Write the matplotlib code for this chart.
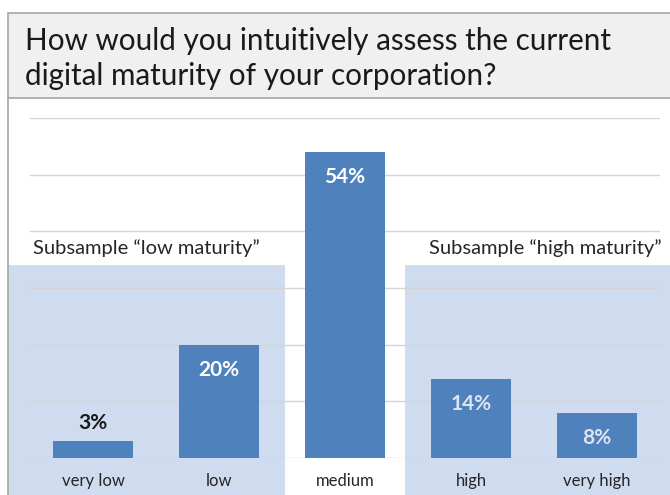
import matplotlib
matplotlib.use("Agg")
import matplotlib.pyplot as plt
from matplotlib.patches import Rectangle
from matplotlib.lines import Line2D

plt.rcParams['font.family'] = ['Lato', 'DejaVu Sans']

# data
categories = ["very low", "low", "medium", "high", "very high"]
shares = [3, 20, 54, 14, 8]
title = "How would you intuitively assess the current\ndigital maturity of your corporation?"
low_label = "Subsample \u201clow maturity\u201d"
high_label = "Subsample \u201chigh maturity\u201d"

BAR = "#4f81bd"
PANEL = "#cfdbee"
W, H = 670, 495

fig = plt.figure(figsize=(6.7, 4.95), dpi=100)

# light blue subsample panels (figure coords), drawn below the axes
fig.patches.append(Rectangle((8 / W, 0), (285 - 8) / W, (495 - 265) / H,
                             transform=fig.transFigure, facecolor=PANEL,
                             edgecolor="none", zorder=-2))
fig.patches.append(Rectangle((405 / W, 0), (W - 405) / W, (495 - 265) / H,
                             transform=fig.transFigure, facecolor=PANEL,
                             edgecolor="none", zorder=-2))

# title box
fig.patches.append(Rectangle((8 / W, (495 - 98) / H), 1.0, (98 - 13) / H,
                             transform=fig.transFigure, facecolor="#f0f0f0",
                             edgecolor="#a6a6a6", linewidth=1.2, zorder=1))
fig.lines.append(Line2D([8 / W, 8 / W], [0, (495 - 98) / H],
                        transform=fig.transFigure, color="#a6a6a6", linewidth=1.2))
fig.text(25 / W, (495 - 58.5) / H, title, fontsize=21.3, color="#1a1a1a",
         ha="left", va="center", linespacing=1.32, zorder=2)

ax = fig.add_axes([30 / W, (495 - 458) / H, (660 - 30) / W, (458 - 118) / H])
ax.set_zorder(1)
ax.set_facecolor("none")
x = list(range(len(categories)))
bars = ax.bar(x, shares, width=0.63, color=BAR, zorder=3)

ax.set_xlim(-0.5, 4.5)
ax.set_ylim(0, 60)
ax.set_yticks(range(0, 61, 10))
ax.yaxis.grid(True, color="#d4d4d4", linewidth=1)
ax.set_axisbelow(True)
ax.tick_params(axis="y", left=False, labelleft=False)
ax.tick_params(axis="x", length=0, pad=11, labelsize=12, labelcolor="#262626")
ax.set_xticks(x, categories)
for s in ax.spines.values():
    s.set_visible(False)

inside_colors = ["white", "white", "white", "#dbe4f1", "#dbe4f1"]
for xi, v, c in zip(x, shares, inside_colors):
    if v >= 5:
        ax.annotate(f"{v}%", (xi, v), xytext=(0, -18), textcoords="offset points",
                    ha="center", va="center", fontsize=15, fontweight="bold", color=c)
    else:
        ax.annotate(f"{v}%", (xi, v), xytext=(0, 13), textcoords="offset points",
                    ha="center", va="center", fontsize=15, fontweight="bold", color="#1a1a1a")

fig.text(33 / W, (495 - 248) / H, low_label, fontsize=14.5, color="#262626",
         ha="left", va="center")
fig.text(662 / W, (495 - 248) / H, high_label, fontsize=14.5, color="#262626",
         ha="right", va="center")

fig.savefig("out.png", dpi=100)
